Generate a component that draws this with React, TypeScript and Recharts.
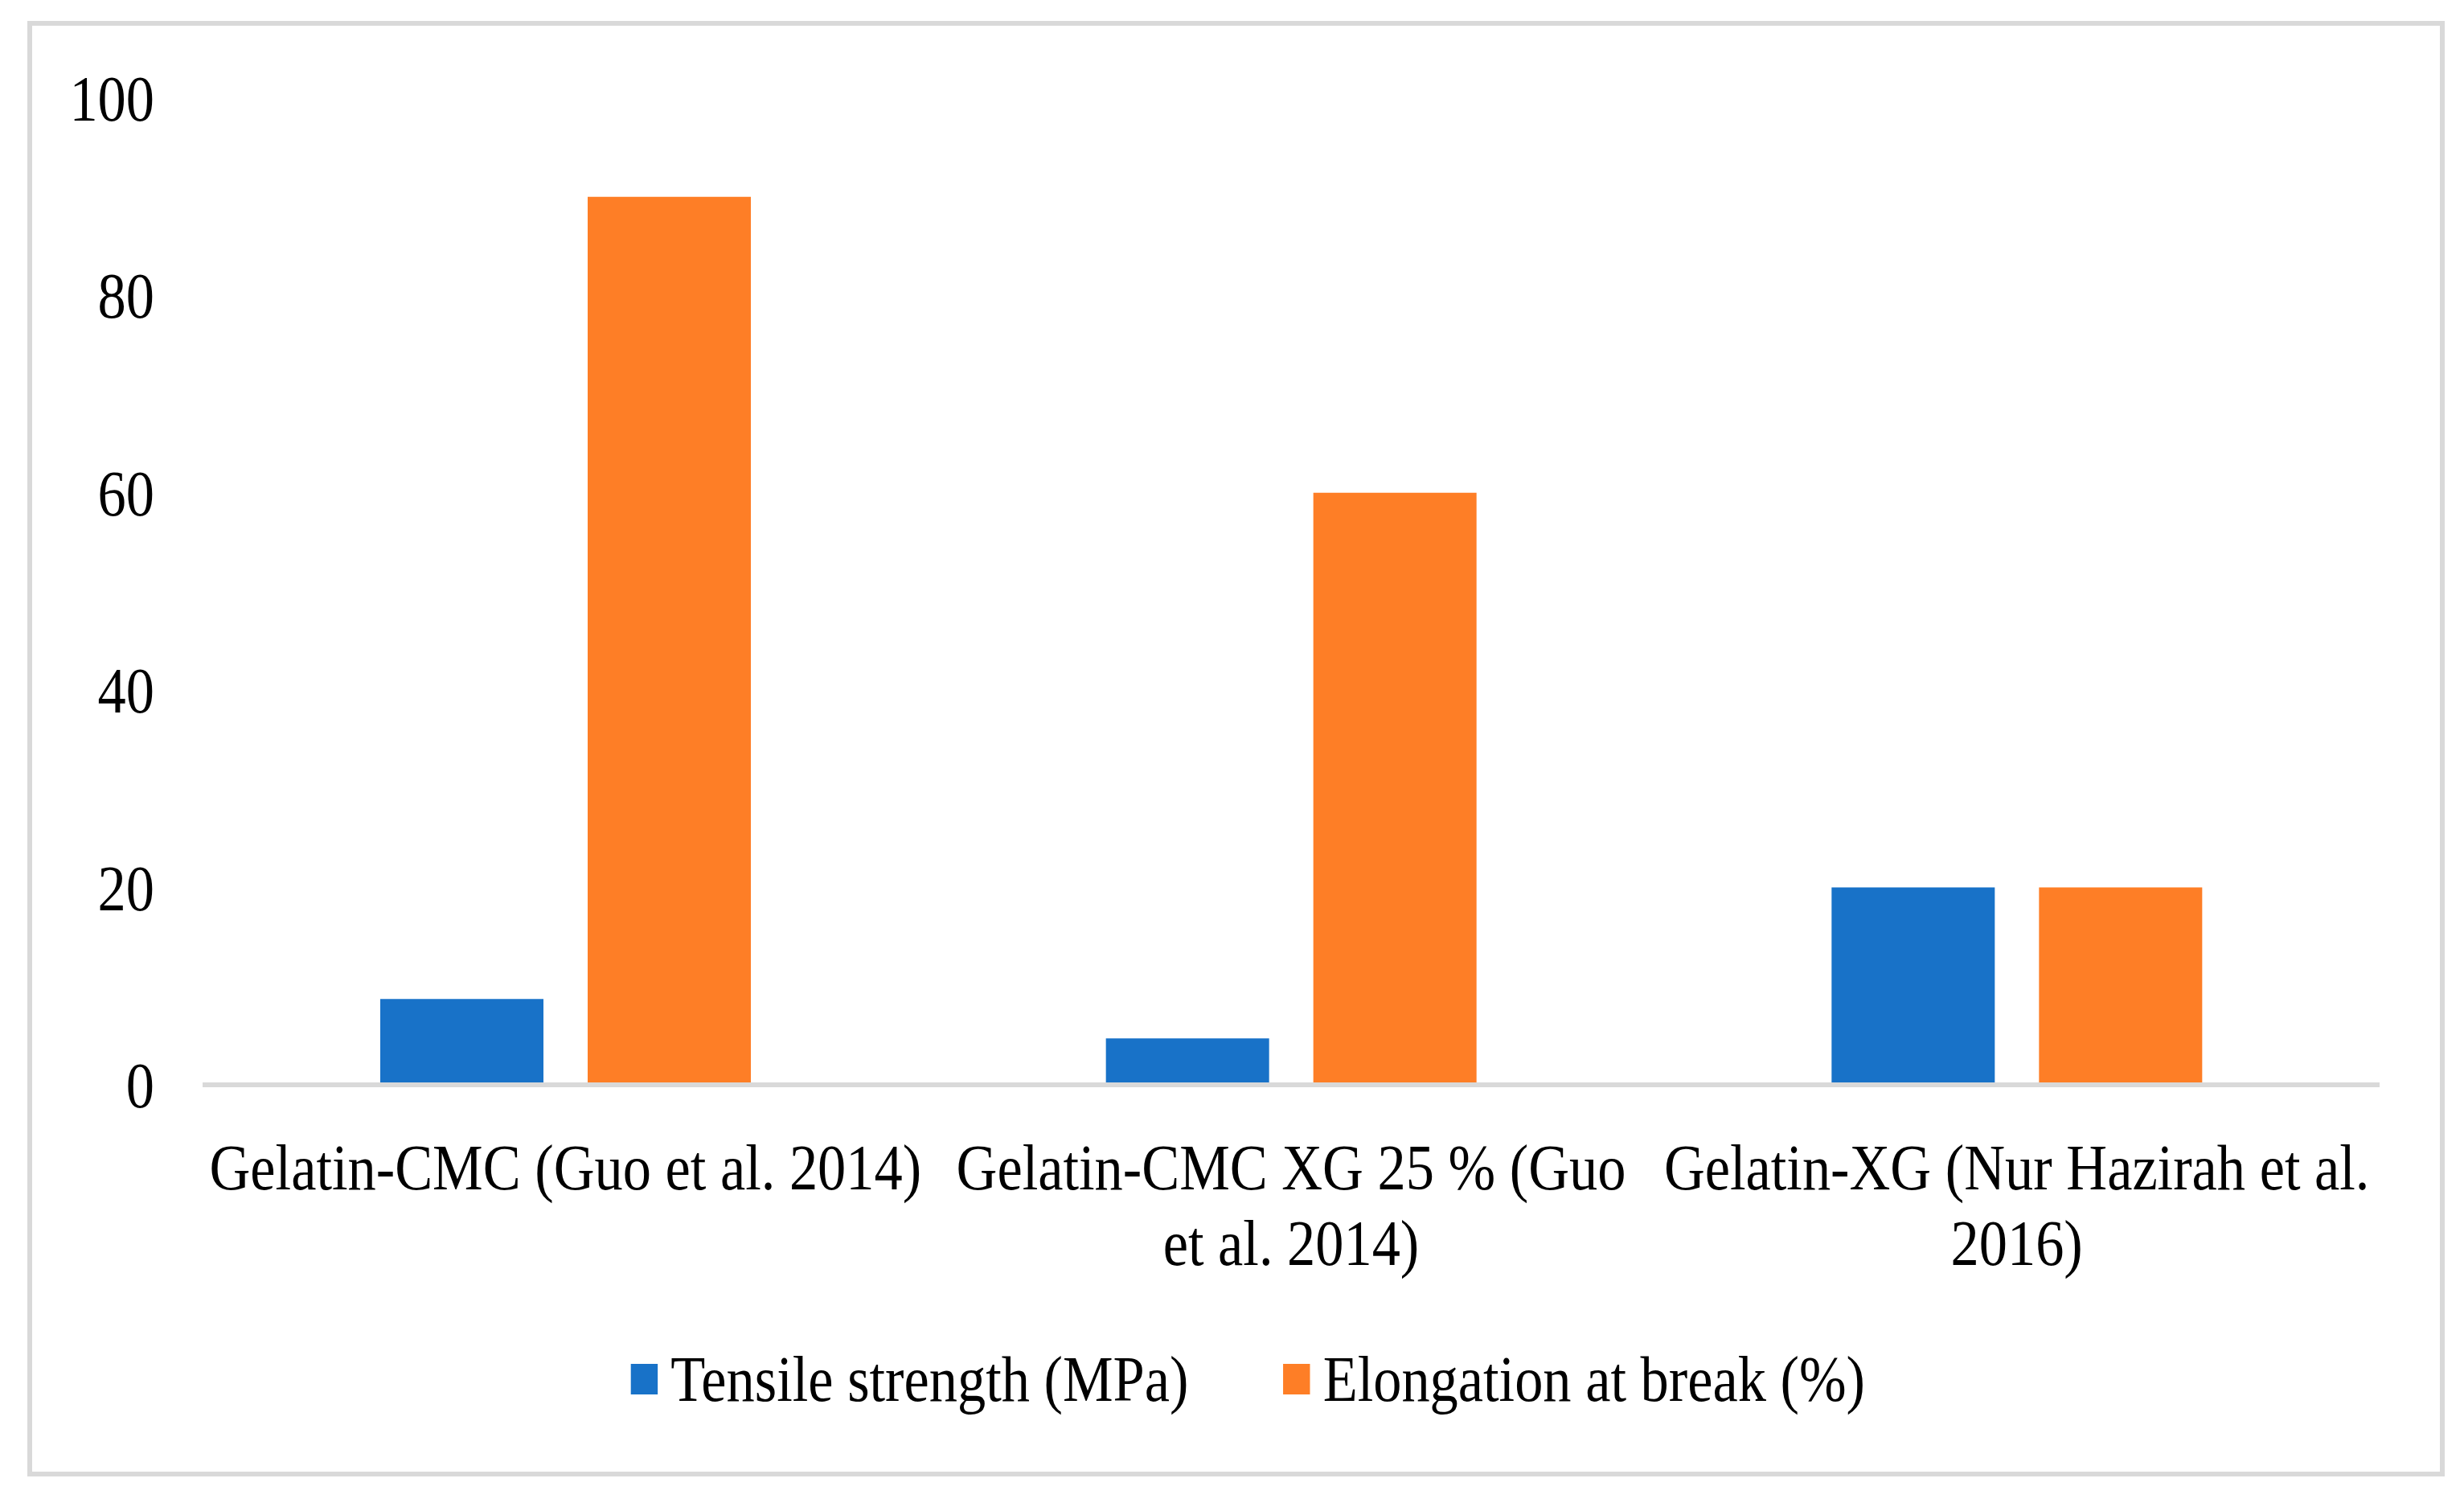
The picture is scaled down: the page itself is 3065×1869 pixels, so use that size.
import React from 'react';
import { BarChart, Bar, XAxis, YAxis, Legend } from 'recharts';

// categories (line breaks where the original label wraps)
const categories = [
  'Gelatin-CMC (Guo et al. 2014)',
  'Gelatin-CMC XG 25 % (Guo\net al. 2014)',
  'Gelatin-XG (Nur Hazirah et al.\n2016)',
];
const tensileStrength = [8.7, 4.7, 20];
const elongationAtBreak = [90, 60, 20];
const yTicks = [0, 20, 40, 60, 80, 100];
const seriesOrder = ['tensile', 'elongation'];

const data = categories.map((name, i) => ({
  name,
  tensile: tensileStrength[i],
  elongation: elongationAtBreak[i],
}));

const FONT = '"Liberation Serif", "Times New Roman", serif';
const SQUEEZE = 0.88; // the source picture is slightly narrowed horizontally

const YTick = (props: any) => {
  const { x, y, payload } = props;
  return (
    <g transform={`translate(${x},${y}) scale(${SQUEEZE},1)`}>
      <text x={0} y={0} dy="0.35em" textAnchor="end" fontFamily={FONT} fontSize={80} fill="#000">
        {payload.value}
      </text>
    </g>
  );
};

const XTick = (props: any) => {
  const { x, y, payload } = props;
  const lines = String(payload.value).split('\n');
  return (
    <g transform={`translate(${x},${y}) scale(${SQUEEZE},1)`}>
      <text x={0} y={0} textAnchor="middle" fontFamily={FONT} fontSize={80} fill="#000">
        {lines.map((l, i) => (
          <tspan key={i} x={0} dy={i === 0 ? 130 : 94}>{l}</tspan>
        ))}
      </text>
    </g>
  );
};

const renderLegend = (props: any) => {
  const payload = [...(props.payload || [])].sort(
    (a: any, b: any) => seriesOrder.indexOf(a.dataKey) - seriesOrder.indexOf(b.dataKey)
  );
  return (
    <div
      style={{
        display: 'flex',
        justifyContent: 'center',
        alignItems: 'center',
        transform: `scaleX(${SQUEEZE})`,
        transformOrigin: 'center',
        fontFamily: FONT,
        fontSize: 80,
        lineHeight: 1,
        color: '#000',
      }}
    >
      {payload.map((entry: any, i: number) => (
        <div key={i} style={{ display: 'flex', alignItems: 'center', marginLeft: i ? 134 : 0 }}>
          <span style={{ display: 'inline-block', width: 38, height: 38, background: entry.color, marginRight: 18 }} />
          <span>{entry.value}</span>
        </div>
      ))}
    </div>
  );
};

export default function App() {
  return (
    <div style={{ position: 'absolute', left: 0, top: 0, width: 3065, height: 1869, background: '#fff' }}>
      <div
        style={{
          position: 'absolute',
          left: 34,
          top: 26,
          width: 3007,
          height: 1810,
          border: '6px solid #d9d9d9',
          boxSizing: 'border-box',
        }}
      />
      <div style={{ position: 'absolute', left: 0, top: 0 }}>
        <BarChart
          width={3065}
          height={1869}
          data={data}
          margin={{ top: 122, right: 105, bottom: 0, left: 0 }}
          barCategoryGap={221}
          barGap={55}
        >
          <XAxis
            dataKey="name"
            height={520}
            interval={0}
            axisLine={{ stroke: '#d9d9d9', strokeWidth: 6 }}
            tickLine={false}
            tickSize={0}
            tickMargin={0}
            tick={XTick}
          />
          <YAxis
            domain={[0, 100]}
            ticks={yTicks}
            interval={0}
            width={252}
            axisLine={false}
            tickLine={false}
            tickSize={0}
            tickMargin={60}
            tick={YTick}
          />
          <Legend
            layout="horizontal"
            align="center"
            verticalAlign="middle"
            wrapperStyle={{ top: 1675, left: 20, width: 3065 }}
            content={renderLegend}
          />
          <Bar dataKey="tensile" name="Tensile strength (MPa)" fill="#1872c8" isAnimationActive={false} />
          <Bar dataKey="elongation" name="Elongation at break (%)" fill="#fe7e26" isAnimationActive={false} />
        </BarChart>
      </div>
    </div>
  );
}
